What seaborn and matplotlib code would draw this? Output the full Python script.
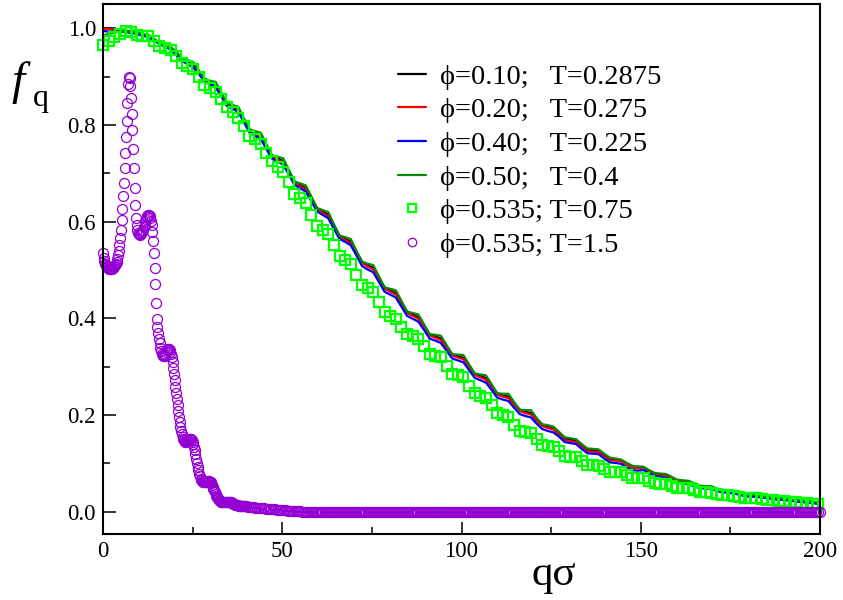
import numpy as np
import pandas as pd
import matplotlib
matplotlib.use("Agg")
import matplotlib.pyplot as plt
import seaborn as sns

# ---------------- data ----------------
# lines are sampled every pi/2 in q (index k -> q = k*pi/2)
f_black = [
    1.000, 0.999, 0.998, 0.997, 0.995, 0.993, 0.991, 0.987, 0.985, 0.978,
    0.970, 0.965, 0.959, 0.949, 0.937, 0.931, 0.924, 0.910, 0.896, 0.888,
    0.883, 0.864, 0.844, 0.838, 0.832, 0.811, 0.791, 0.784, 0.778, 0.757,
    0.737, 0.731, 0.725, 0.704, 0.683, 0.676, 0.669, 0.649, 0.628, 0.621,
    0.614, 0.592, 0.571, 0.565, 0.558, 0.537, 0.517, 0.510, 0.504, 0.484,
    0.464, 0.458, 0.452, 0.433, 0.414, 0.408, 0.402, 0.385, 0.367, 0.363,
    0.358, 0.342, 0.326, 0.322, 0.318, 0.302, 0.286, 0.281, 0.276, 0.261,
    0.245, 0.241, 0.238, 0.224, 0.211, 0.207, 0.204, 0.191, 0.180, 0.176,
    0.173, 0.162, 0.151, 0.149, 0.147, 0.137, 0.128, 0.127, 0.126, 0.117,
    0.109, 0.108, 0.106, 0.099, 0.093, 0.092, 0.091, 0.084, 0.079, 0.077,
    0.075, 0.070, 0.065, 0.063, 0.062, 0.057, 0.052, 0.051, 0.051, 0.046,
    0.043, 0.042, 0.041, 0.038, 0.035, 0.034, 0.033, 0.031, 0.030, 0.028,
    0.027, 0.026, 0.025, 0.023, 0.022, 0.021, 0.020, 0.018, 0.017,
]
f_red = [
    0.999, 0.998, 0.997, 0.996, 0.994, 0.992, 0.990, 0.986, 0.984, 0.977,
    0.969, 0.964, 0.958, 0.946, 0.934, 0.928, 0.921, 0.907, 0.893, 0.885,
    0.880, 0.861, 0.841, 0.835, 0.829, 0.808, 0.788, 0.781, 0.775, 0.754,
    0.734, 0.728, 0.722, 0.701, 0.680, 0.673, 0.666, 0.646, 0.625, 0.618,
    0.611, 0.589, 0.568, 0.562, 0.555, 0.534, 0.514, 0.507, 0.501, 0.481,
    0.461, 0.455, 0.449, 0.430, 0.411, 0.405, 0.399, 0.382, 0.364, 0.360,
    0.355, 0.339, 0.323, 0.319, 0.315, 0.299, 0.283, 0.278, 0.273, 0.258,
    0.242, 0.238, 0.235, 0.221, 0.208, 0.204, 0.201, 0.188, 0.177, 0.173,
    0.170, 0.159, 0.148, 0.146, 0.144, 0.134, 0.125, 0.124, 0.123, 0.114,
    0.106, 0.106, 0.104, 0.097, 0.091, 0.090, 0.089, 0.082, 0.077, 0.075,
    0.073, 0.068, 0.063, 0.061, 0.060, 0.055, 0.050, 0.049, 0.049, 0.044,
    0.041, 0.041, 0.040, 0.037, 0.034, 0.033, 0.032, 0.030, 0.029, 0.027,
    0.026, 0.025, 0.024, 0.022, 0.021, 0.020, 0.019, 0.017, 0.016,
]
f_blue = [
    0.994, 0.993, 0.993, 0.993, 0.992, 0.990, 0.988, 0.984, 0.982, 0.975,
    0.967, 0.962, 0.956, 0.944, 0.932, 0.926, 0.919, 0.905, 0.891, 0.883,
    0.878, 0.859, 0.839, 0.833, 0.827, 0.806, 0.784, 0.777, 0.771, 0.750,
    0.730, 0.724, 0.718, 0.697, 0.676, 0.669, 0.662, 0.642, 0.621, 0.614,
    0.607, 0.585, 0.564, 0.558, 0.551, 0.530, 0.508, 0.501, 0.495, 0.475,
    0.455, 0.449, 0.443, 0.424, 0.405, 0.399, 0.393, 0.376, 0.358, 0.354,
    0.349, 0.333, 0.317, 0.313, 0.309, 0.293, 0.277, 0.272, 0.267, 0.252,
    0.236, 0.232, 0.229, 0.215, 0.202, 0.198, 0.195, 0.182, 0.171, 0.167,
    0.164, 0.155, 0.144, 0.142, 0.140, 0.130, 0.121, 0.120, 0.119, 0.110,
    0.102, 0.101, 0.099, 0.092, 0.086, 0.085, 0.086, 0.079, 0.074, 0.072,
    0.070, 0.065, 0.060, 0.058, 0.057, 0.052, 0.049, 0.048, 0.048, 0.043,
    0.040, 0.039, 0.038, 0.035, 0.032, 0.031, 0.031, 0.029, 0.028, 0.026,
    0.025, 0.024, 0.023, 0.021, 0.020, 0.019, 0.018, 0.016, 0.015,
]
f_green = [
    0.985, 0.988, 0.991, 0.993, 0.993, 0.993, 0.991, 0.987, 0.987, 0.978,
    0.968, 0.965, 0.961, 0.952, 0.937, 0.934, 0.930, 0.913, 0.896, 0.891,
    0.889, 0.867, 0.844, 0.841, 0.838, 0.814, 0.791, 0.787, 0.784, 0.760,
    0.737, 0.734, 0.731, 0.707, 0.683, 0.679, 0.675, 0.652, 0.628, 0.624,
    0.620, 0.595, 0.571, 0.568, 0.564, 0.540, 0.517, 0.513, 0.510, 0.487,
    0.464, 0.461, 0.458, 0.436, 0.414, 0.411, 0.408, 0.388, 0.367, 0.366,
    0.364, 0.345, 0.326, 0.325, 0.324, 0.305, 0.286, 0.284, 0.282, 0.264,
    0.245, 0.244, 0.244, 0.227, 0.211, 0.210, 0.210, 0.194, 0.181, 0.179,
    0.176, 0.165, 0.154, 0.152, 0.150, 0.140, 0.131, 0.130, 0.129, 0.120,
    0.112, 0.110, 0.108, 0.101, 0.095, 0.094, 0.093, 0.086, 0.080, 0.079,
    0.078, 0.072, 0.066, 0.065, 0.064, 0.059, 0.054, 0.053, 0.053, 0.048,
    0.044, 0.043, 0.043, 0.039, 0.035, 0.035, 0.035, 0.032, 0.030, 0.029,
    0.029, 0.027, 0.025, 0.024, 0.024, 0.022, 0.021, 0.019, 0.018,
]
# green squares, also every pi/2 in q
f_squares = [
    0.965, 0.973, 0.981, 0.988, 0.995, 0.993, 0.985, 0.984, 0.983, 0.973,
    0.964, 0.960, 0.955, 0.943, 0.928, 0.922, 0.915, 0.900, 0.883, 0.877,
    0.868, 0.853, 0.836, 0.826, 0.815, 0.797, 0.777, 0.770, 0.760, 0.742,
    0.725, 0.713, 0.702, 0.681, 0.657, 0.648, 0.638, 0.613, 0.590, 0.583,
    0.575, 0.551, 0.528, 0.520, 0.512, 0.490, 0.469, 0.462, 0.455, 0.433,
    0.413, 0.405, 0.398, 0.382, 0.368, 0.363, 0.358, 0.343, 0.326, 0.322,
    0.319, 0.302, 0.285, 0.282, 0.278, 0.261, 0.245, 0.240, 0.236, 0.220,
    0.204, 0.200, 0.196, 0.180, 0.167, 0.165, 0.162, 0.150, 0.139, 0.137,
    0.134, 0.125, 0.115, 0.114, 0.113, 0.104, 0.097, 0.096, 0.095, 0.088,
    0.082, 0.082, 0.082, 0.076, 0.070, 0.070, 0.069, 0.064, 0.059, 0.058,
    0.058, 0.053, 0.049, 0.049, 0.049, 0.044, 0.040, 0.040, 0.039, 0.037,
    0.034, 0.034, 0.033, 0.031, 0.029, 0.028, 0.028, 0.026, 0.024, 0.024,
    0.023, 0.022, 0.021, 0.020, 0.019, 0.018, 0.017, 0.016,
]
# purple circles: q = 0 .. 39.8 step 0.2
f_circ_a = [
    0.535, 0.525, 0.518, 0.513, 0.510, 0.508, 0.506, 0.505, 0.504, 0.503,
    0.503, 0.503, 0.503, 0.504, 0.505, 0.506, 0.508, 0.510, 0.513, 0.517,
    0.523, 0.530, 0.540, 0.552, 0.566, 0.583, 0.603, 0.626, 0.652, 0.680,
    0.710, 0.742, 0.775, 0.808, 0.845, 0.885, 0.900, 0.897, 0.880, 0.855,
    0.823, 0.789, 0.750, 0.710, 0.670, 0.635, 0.608, 0.592, 0.583, 0.577,
    0.574, 0.573, 0.574, 0.576, 0.578, 0.580, 0.583, 0.588, 0.594, 0.601,
    0.606, 0.609, 0.612, 0.614, 0.614, 0.612, 0.608, 0.602, 0.592, 0.578,
    0.560, 0.535, 0.505, 0.470, 0.432, 0.398, 0.383, 0.370, 0.358, 0.348,
    0.339, 0.332, 0.327, 0.324, 0.322, 0.322, 0.323, 0.326, 0.330, 0.334,
    0.336, 0.337, 0.336, 0.334, 0.331, 0.327, 0.320, 0.310, 0.298, 0.285,
    0.272, 0.259, 0.246, 0.233, 0.220, 0.208, 0.196, 0.185, 0.175, 0.167,
    0.160, 0.155, 0.151, 0.148, 0.146, 0.145, 0.145, 0.146, 0.147, 0.149,
    0.150, 0.151, 0.151, 0.150, 0.148, 0.145, 0.140, 0.134, 0.127, 0.119,
    0.110, 0.101, 0.093, 0.086, 0.079, 0.073, 0.068, 0.065, 0.063, 0.062,
    0.061, 0.061, 0.061, 0.062, 0.062, 0.063, 0.063, 0.063, 0.063, 0.062,
    0.061, 0.059, 0.056, 0.052, 0.048, 0.044, 0.040, 0.036, 0.033, 0.030,
    0.028, 0.026, 0.024, 0.022, 0.021, 0.020, 0.020, 0.020, 0.020, 0.020,
    0.020, 0.021, 0.021, 0.021, 0.021, 0.021, 0.021, 0.021, 0.020, 0.020,
    0.019, 0.018, 0.017, 0.016, 0.015, 0.014, 0.014, 0.013, 0.013, 0.012,
    0.012, 0.012, 0.012, 0.011, 0.011, 0.011, 0.011, 0.011, 0.011, 0.011,
]
# q = 40 .. 59.5 step 0.5
f_circ_b = [
    0.011, 0.010, 0.010, 0.009, 0.009, 0.008, 0.008, 0.008,
    0.007, 0.007, 0.007, 0.006, 0.006, 0.006, 0.005, 0.005,
    0.005, 0.004, 0.004, 0.004, 0.003, 0.003, 0.003, 0.002,
    0.002, 0.002, 0.002, 0.001, 0.001, 0.001, 0.001, 0.000,
    0.000, 0.000, 0.000, 0.000, 0.000, 0.000, 0.000, 0.000,
]
# q = 60 .. 200 step 0.5
f_circ_c = [
    0.0, 0.0, 0.0, 0.0, 0.0, 0.0, 0.0, 0.0, 0.0, 0.0, 0.0, 0.0, 0.0, 0.0, 0.0, 0.0, 0.0, 0.0, 0.0, 0.0,
    0.0, 0.0, 0.0, 0.0, 0.0, 0.0, 0.0, 0.0, 0.0, 0.0, 0.0, 0.0, 0.0, 0.0, 0.0, 0.0, 0.0, 0.0, 0.0, 0.0,
    0.0, 0.0, 0.0, 0.0, 0.0, 0.0, 0.0, 0.0, 0.0, 0.0, 0.0, 0.0, 0.0, 0.0, 0.0, 0.0, 0.0, 0.0, 0.0, 0.0,
    0.0, 0.0, 0.0, 0.0, 0.0, 0.0, 0.0, 0.0, 0.0, 0.0, 0.0, 0.0, 0.0, 0.0, 0.0, 0.0, 0.0, 0.0, 0.0, 0.0,
    0.0, 0.0, 0.0, 0.0, 0.0, 0.0, 0.0, 0.0, 0.0, 0.0, 0.0, 0.0, 0.0, 0.0, 0.0, 0.0, 0.0, 0.0, 0.0, 0.0,
    0.0, 0.0, 0.0, 0.0, 0.0, 0.0, 0.0, 0.0, 0.0, 0.0, 0.0, 0.0, 0.0, 0.0, 0.0, 0.0, 0.0, 0.0, 0.0, 0.0,
    0.0, 0.0, 0.0, 0.0, 0.0, 0.0, 0.0, 0.0, 0.0, 0.0, 0.0, 0.0, 0.0, 0.0, 0.0, 0.0, 0.0, 0.0, 0.0, 0.0,
    0.0, 0.0, 0.0, 0.0, 0.0, 0.0, 0.0, 0.0, 0.0, 0.0, 0.0, 0.0, 0.0, 0.0, 0.0, 0.0, 0.0, 0.0, 0.0, 0.0,
    0.0, 0.0, 0.0, 0.0, 0.0, 0.0, 0.0, 0.0, 0.0, 0.0, 0.0, 0.0, 0.0, 0.0, 0.0, 0.0, 0.0, 0.0, 0.0, 0.0,
    0.0, 0.0, 0.0, 0.0, 0.0, 0.0, 0.0, 0.0, 0.0, 0.0, 0.0, 0.0, 0.0, 0.0, 0.0, 0.0, 0.0, 0.0, 0.0, 0.0,
    0.0, 0.0, 0.0, 0.0, 0.0, 0.0, 0.0, 0.0, 0.0, 0.0, 0.0, 0.0, 0.0, 0.0, 0.0, 0.0, 0.0, 0.0, 0.0, 0.0,
    0.0, 0.0, 0.0, 0.0, 0.0, 0.0, 0.0, 0.0, 0.0, 0.0, 0.0, 0.0, 0.0, 0.0, 0.0, 0.0, 0.0, 0.0, 0.0, 0.0,
    0.0, 0.0, 0.0, 0.0, 0.0, 0.0, 0.0, 0.0, 0.0, 0.0, 0.0, 0.0, 0.0, 0.0, 0.0, 0.0, 0.0, 0.0, 0.0, 0.0,
    0.0, 0.0, 0.0, 0.0, 0.0, 0.0, 0.0, 0.0, 0.0, 0.0, 0.0, 0.0, 0.0, 0.0, 0.0, 0.0, 0.0, 0.0, 0.0, 0.0,
    0.0,
]

labels = [
    "\u03d5=0.10;   T=0.2875",
    "\u03d5=0.20;   T=0.275",
    "\u03d5=0.40;   T=0.225",
    "\u03d5=0.50;   T=0.4",
    "\u03d5=0.535; T=0.75",
    "\u03d5=0.535; T=1.5",
]
x_ticks = [0, 50, 100, 150, 200]
y_ticks = [0.0, 0.2, 0.4, 0.6, 0.8, 1.0]

# ---------------- grids ----------------
q_lines = np.arange(len(f_black)) * (np.pi / 2)
q_sq = np.arange(len(f_squares)) * (np.pi / 2)
q_circ = np.concatenate([
    np.arange(len(f_circ_a)) * 0.2,
    40.0 + np.arange(len(f_circ_b)) * 0.5,
    60.0 + np.arange(len(f_circ_c)) * 0.5,
])
f_circ = np.array(f_circ_a + f_circ_b + f_circ_c)

# ---------------- style ----------------
sns.set_theme(style="white")
plt.rcParams["font.family"] = ["Liberation Serif", "DejaVu Serif"]
plt.rcParams["text.color"] = "black"
plt.rcParams["xtick.color"] = "black"
plt.rcParams["ytick.color"] = "black"

fig = plt.figure(figsize=(8.43, 6.0), dpi=100)
ax = fig.add_axes([103 / 843, 66 / 600, 717 / 843, 530 / 600])

line_specs = [
    (f_black, "black"),
    (f_red, "#ff0000"),
    (f_blue, "#0000ff"),
    (f_green, "#008b00"),
]
for (vals, col), lab in zip(line_specs, labels[:4]):
    sns.lineplot(x=q_lines, y=vals, ax=ax, color=col, lw=1.6,
                 estimator=None, sort=False, label=lab)

sns.lineplot(x=q_sq, y=f_squares, ax=ax, linestyle="none", marker="s",
             markersize=6.5, markerfacecolor="none", markeredgecolor="#00ff00",
             markeredgewidth=1.6, color="#00ff00", clip_on=False,
             estimator=None, sort=False, label=labels[4])
sns.lineplot(x=q_circ, y=f_circ, ax=ax, linestyle="none", marker="o",
             markersize=7.2, markerfacecolor="none", markeredgecolor="#9400d3",
             markeredgewidth=0.9, color="#9400d3", clip_on=False,
             estimator=None, sort=False, label=labels[5])

ax.set_xlim(0, 200)
ax.set_ylim(-0.046, 1.05)
ax.set_xticks(x_ticks)
ax.set_xticklabels([str(v) for v in x_ticks])
ax.set_yticks(y_ticks)
ax.set_yticklabels([f"{v:.1f}" for v in y_ticks])
ax.set_xticks([25, 75, 125, 175], minor=True)
ax.set_yticks([0.1, 0.3, 0.5, 0.7, 0.9], minor=True)
ax.tick_params(which="both", direction="in", top=False, right=False,
               left=True, bottom=True, width=1.1, colors="black")
ax.tick_params(which="major", length=9, labelsize=16.5, pad=5)
ax.tick_params(which="minor", length=5)
for sp in ax.spines.values():
    sp.set_visible(True)
    sp.set_color("black")
    sp.set_linewidth(1.5)
ax.set_xlabel("")
ax.set_ylabel("")
ax.grid(False)

handles, labs = ax.get_legend_handles_labels()
leg = ax.legend(handles, labs, loc="upper left", bbox_to_anchor=(0.411, 0.887),
                frameon=False, fontsize=20.5, handlelength=1.0,
                handletextpad=0.5, labelspacing=0.27, borderpad=0,
                borderaxespad=0, markerscale=0.85)

fig.text(11 / 843, 1 - 94 / 600, "f", fontsize=34, style="italic",
         ha="left", va="baseline")
fig.text(33 / 843, 1 - 106 / 600, "q", fontsize=23, ha="left", va="baseline")
fig.text(554 / 843, 1 - 585 / 600, "q\u03c3", fontsize=31, ha="center",
         va="baseline")

fig.savefig("out.png", dpi=100)
